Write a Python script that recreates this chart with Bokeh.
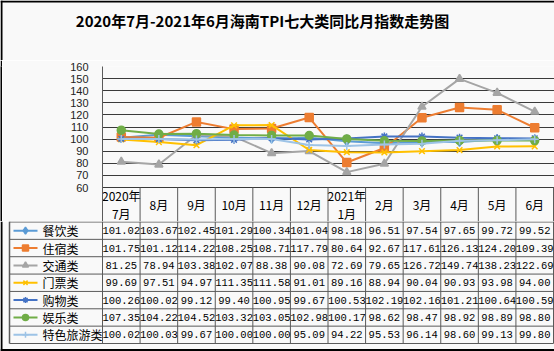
from bokeh.plotting import figure
from bokeh.models import Range1d, FixedTicker
from bokeh.layouts import column, row
from bokeh.embed import file_html
from bokeh.resources import INLINE
from bokeh.core.properties import value

# ---------------- data ----------------
title_text = "2020年7月-2021年6月海南TPI七大类同比月指数走势图"
months = ["2020年\n7月", "8月", "9月", "10月", "11月", "12月",
          "2021年\n1月", "2月", "3月", "4月", "5月", "6月"]
names = ["餐饮类", "住宿类", "交通类", "门票类", "购物类", "娱乐类", "特色旅游类"]
canyin = [101.02, 103.67, 102.45, 101.29, 100.34, 101.04, 98.18, 96.51, 97.54, 97.65, 99.72, 99.52]
zhusu = [101.75, 101.12, 114.22, 108.25, 108.71, 117.79, 80.64, 92.67, 117.61, 126.13, 124.20, 109.39]
jiaotong = [81.25, 78.94, 103.38, 102.07, 88.38, 90.08, 72.69, 79.65, 126.72, 149.74, 138.23, 122.69]
menpiao = [99.69, 97.51, 94.97, 111.35, 111.58, 91.01, 89.16, 88.94, 90.04, 90.93, 93.98, 94.00]
gouwu = [100.26, 100.02, 99.12, 99.40, 100.95, 99.67, 100.53, 102.19, 102.16, 101.21, 100.64, 100.59]
yule = [107.35, 104.22, 104.52, 103.32, 103.05, 102.98, 100.17, 98.62, 98.47, 98.92, 98.89, 98.80]
tese = [100.02, 100.03, 99.67, 100.00, 100.00, 95.09, 94.22, 95.53, 96.14, 98.60, 99.13, 99.80]
y_ticks = [60, 70, 80, 90, 100, 110, 120, 130, 140, 150, 160]

all_values = [canyin, zhusu, jiaotong, menpiao, gouwu, yule, tese]

# ---------------- styles ----------------
colors = ["#5B9BD5", "#ED7D31", "#A5A5A5", "#FFC000", "#4472C4", "#70AD47", "#9DC3E6"]
markers = ["diamond", "square", "triangle", "x", "asterisk", "circle", "cross"]
msizes = [9, 8, 8, 8, 8, 8, 8]
BG = "#f9f9f9"
CJK = value("Noto Sans CJK SC")
grid_c = "#5a5a5a"
x_idx = list(range(len(months)))
w = 451 / 12.0          # pixels per category
ppu = 121 / 100.0       # pixels per index unit (60..160 over 121 px)
header_px = 34          # height of the header row


def px(p):
    return -0.5 + (p - 102) / w


# ---------------- title strip ----------------
T = figure(width=554, height=60, x_range=Range1d(0, 554), y_range=Range1d(60, 0),
           output_backend="svg", toolbar_location=None, min_border=0,
           x_axis_location=None, y_axis_location=None,
           background_fill_color=BG, border_fill_color=BG, outline_line_color=None)
T.grid.visible = False
T.segment(x0=[0, 1], y0=[1, 0], x1=[554, 1], y1=[1, 60], line_color="#000000", line_width=2)
T.text(x=[262], y=[20], text=[title_text], text_font=CJK, text_font_size="15px",
       text_font_style="bold", text_color="#000000", text_align="center", text_baseline="middle")

# ---------------- chart (+ header row of the table) ----------------
A_H = 6 + 121 + header_px
L = figure(width=2, height=A_H, output_backend="svg", toolbar_location=None, min_border=0,
           x_axis_location=None, y_axis_location=None,
           background_fill_color="#000000", border_fill_color="#000000", outline_line_color=None)
L.grid.visible = False

y_low = 60 - header_px / ppu
A = figure(width=552, height=A_H, x_range=Range1d(-0.5, 11.5 + 1 / w), y_range=Range1d(y_low, 160),
           output_backend="svg", toolbar_location=None,
           min_border_left=100, min_border_right=0, min_border_top=6, min_border_bottom=0,
           background_fill_color=BG, border_fill_color=BG, outline_line_color=None)
A.xaxis.visible = False
A.xgrid.visible = False
A.yaxis.ticker = FixedTicker(ticks=y_ticks)
A.ygrid.ticker = FixedTicker(ticks=y_ticks)
A.ygrid.grid_line_color = "#3a3a3a"
A.ygrid.grid_line_width = 1
A.yaxis.axis_line_color = grid_c
A.yaxis.major_tick_line_color = None
A.yaxis.minor_tick_line_color = None
A.yaxis.major_label_standoff = 8
A.yaxis.major_label_text_font = "Liberation Sans"
A.yaxis.major_label_text_font_size = "11px"
A.yaxis.major_label_text_color = "#222222"

for vals, c, m, s in zip(all_values, colors, markers, msizes):
    A.line(x_idx, vals, line_color=c, line_width=2)
    A.scatter(x_idx, vals, marker=m, size=s, fill_color=c, line_color=c, line_width=1.5)

# header row cells
vx = [k - 0.5 for k in range(len(months) + 1)]
A.segment(x0=vx, y0=[60] * len(vx), x1=vx, y1=[y_low] * len(vx), line_color=grid_c, line_width=1)
A.text(x=x_idx, y=[60 - (header_px / 2) / ppu] * len(months), text=months, text_font=CJK,
       text_font_size="12px", text_color="#000000", text_align="center",
       text_baseline="middle", text_line_height=1.1)

# ---------------- table body ----------------
B_H = 351 - 60 - A_H
B = figure(width=554, height=B_H, x_range=Range1d(px(0), px(554)), y_range=Range1d(B_H, 0),
           output_backend="svg", toolbar_location=None, min_border=0,
           x_axis_location=None, y_axis_location=None,
           background_fill_color=BG, border_fill_color=BG, outline_line_color=None)
B.grid.visible = False

table_bottom = 343 - (60 + A_H)
top_line = 0.5
rh = (table_bottom - top_line) / len(names)

B.segment(x0=vx, y0=[0] * len(vx), x1=vx, y1=[table_bottom] * len(vx), line_color=grid_c, line_width=1)
B.segment(x0=[px(9)], y0=[0], x1=[px(9)], y1=[table_bottom], line_color=grid_c, line_width=1.5)
hy = [top_line + r * rh for r in range(len(names) + 1)]
B.segment(x0=[px(9)] * len(hy), y0=hy, x1=[11.5] * len(hy), y1=hy, line_color=grid_c, line_width=1)

# outer border
B.segment(x0=[px(1), px(0)], y0=[0, B_H - 1.5], x1=[px(1), px(554)], y1=[B_H, B_H - 1.5],
          line_color="#000000", line_width=2)

for r, (nm, vals, c, m, s) in enumerate(zip(names, all_values, colors, markers, msizes)):
    yc = top_line + (r + 0.5) * rh
    B.text(x=x_idx, y=[yc] * len(vals), text=[f"{v:.2f}" for v in vals],
           text_font=value("Liberation Mono"), text_font_size="10.5px", text_color="#000000",
           text_align="center", text_baseline="middle")
    B.segment(x0=[px(13)], y0=[yc], x1=[px(37)], y1=[yc], line_color=c, line_width=2)
    B.scatter(x=[px(25)], y=[yc], marker=m, size=s - 2, fill_color=c, line_color=c, line_width=1.5)
    B.text(x=[px(42)], y=[yc], text=[nm], text_font=CJK, text_font_size="12px",
           text_color="#000000", text_align="left", text_baseline="middle")

layout = column(T, row(L, A), B)
open("out.html", "w").write(file_html(layout, INLINE))
